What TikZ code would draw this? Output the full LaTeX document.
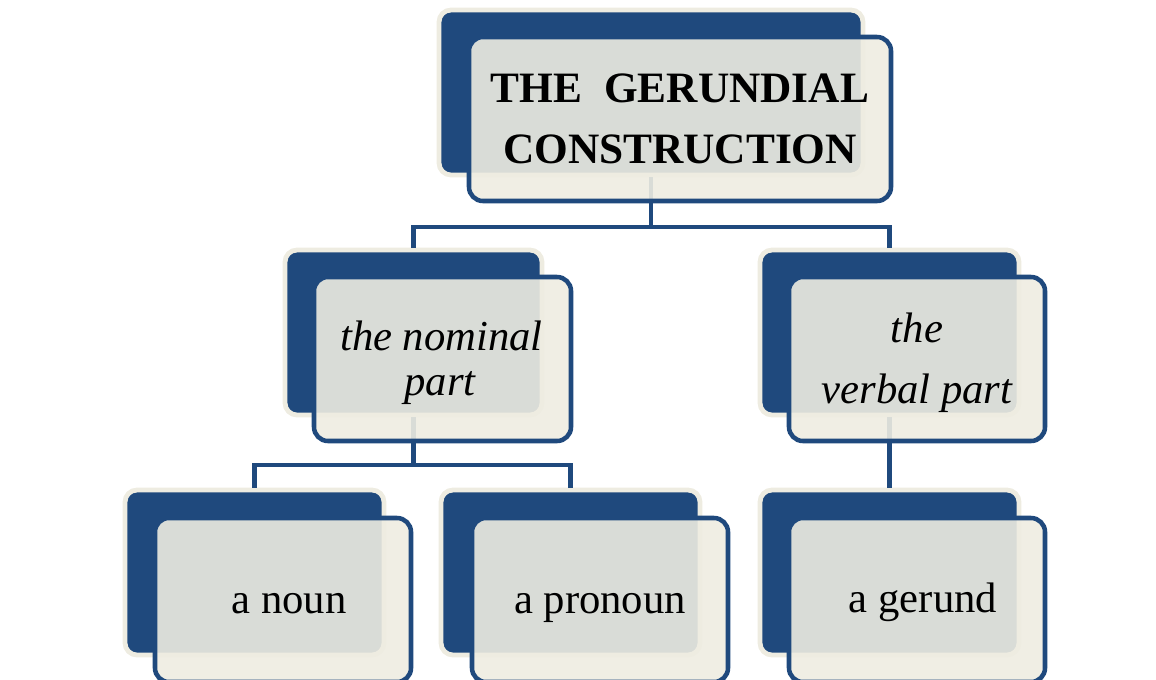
\documentclass[tikz,border=0pt]{standalone}
\usepackage{fontspec}
\setmainfont{Liberation Serif}
\usetikzlibrary{fit}
\definecolor{dblue}{RGB}{31,73,125}
\definecolor{cream}{RGB}{238,236,225}
\tikzset{
  backbox/.style={rectangle, rounded corners=9pt, fill=dblue, draw=cream, line width=3.6pt, inner sep=0pt},
  frontbox/.style={rectangle, rounded corners=10.5pt, fill=cream, fill opacity=0.9, draw=dblue, line width=3.4pt, inner sep=0pt},
  conn/.style={draw=dblue, line width=3.4pt},
  lbl/.style={anchor=base, inner sep=0pt, text=black, font=\fontsize{32}{38}\selectfont},
  ilbl/.style={lbl, font=\fontsize{32}{38}\selectfont\itshape},
  tlbl/.style={lbl, font=\fontsize{32.5}{38}\selectfont\bfseries},
}
\begin{document}
\begin{tikzpicture}[x=0.75pt,y=-0.75pt]
\useasboundingbox (0,0) rectangle (1156,679);
% back boxes
\node[backbox, fit={(439,10) (863,175)}] (b0) {};
\node[backbox, fit={(285,250) (542,415)}] (b1) {};
\node[backbox, fit={(760,250) (1019,415)}] (b2) {};
\node[backbox, fit={(125,490) (384,655)}] (b3) {};
\node[backbox, fit={(441,490) (700,655)}] (b4) {};
\node[backbox, fit={(760,490) (1019,655)}] (b5) {};
% connectors
\coordinate (h1) at (0,227);
\coordinate (h2) at (0,465);
\draw[conn] (b0.south) -- (b0.south |- h1) -| (b1.north);
\draw[conn] (b0.south |- h1) -| (b2.north);
\draw[conn] (b1.south) -- (b1.south |- h2) -| (b3.north);
\draw[conn] (b1.south |- h2) -| (b4.north);
\draw[conn] (b2.south) -- (b5.north);
% front boxes
\node[frontbox, fit={(469,37) (891,201)}] (f0) {};
\node[frontbox, fit={(314,277) (571,441)}] (f1) {};
\node[frontbox, fit={(789,277) (1045,441)}] (f2) {};
\node[frontbox, fit={(155,518) (411,682)}] (f3) {};
\node[frontbox, fit={(472,518) (728,682)}] (f4) {};
\node[frontbox, fit={(789,518) (1045,682)}] (f5) {};
% texts
\node[tlbl] (t0a) at (680,102) {THE\ \ GERUNDIAL};
\node[tlbl] (t0b) at (680,163) {CONSTRUCTION};
\node[ilbl] (t1a) at (441.5,350) {the nominal};
\node[ilbl] (t1b) at (440,395) {part};
\node[ilbl] (t2a) at (917,342) {the};
\node[ilbl] (t2b) at (917,403) {verbal part};
\node[lbl] (t3) at (289,613) {a noun};
\node[lbl] (t4) at (600,613) {a pronoun};
\node[lbl] (t5) at (923,612) {a gerund};
\end{tikzpicture}
\end{document}
